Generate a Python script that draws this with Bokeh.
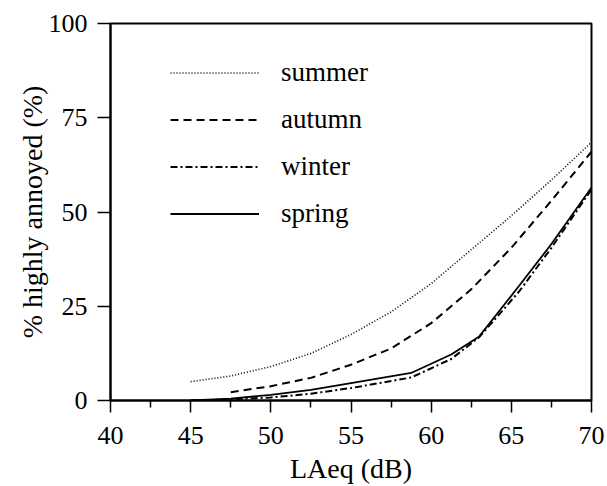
from bokeh.plotting import figure
from bokeh.models import Range1d, FixedTicker, Legend, LegendItem
from bokeh.embed import file_html
from bokeh.resources import INLINE

# ---- data ----
summer_x = [45, 47.5, 50, 52.5, 55, 57.5, 60, 62.5, 65, 67.5, 70]
summer_y = [5, 6.5, 9, 12.5, 17.5, 23.5, 31, 40, 49, 58.5, 68.5]

autumn_x = [47.5, 50, 52.5, 55, 57.5, 60, 62.5, 65, 67.5, 70]
autumn_y = [2.2, 3.8, 6, 9.5, 13.8, 20.5, 29.5, 40.5, 53, 66]

winter_x = [45, 47.5, 50, 52.5, 55, 58.75, 61.25, 63, 65.5, 67.5, 70]
winter_y = [0, 0.3, 0.8, 1.8, 3.3, 6.1, 11, 16.8, 29, 40.5, 56]

spring_x = [45, 47.5, 50, 52.5, 55, 58.75, 61.25, 63, 65.5, 67.5, 70]
spring_y = [0, 0.5, 1.5, 2.8, 4.6, 7.3, 12.2, 17, 30.5, 41.5, 56.5]

x_major = [40, 45, 50, 55, 60, 65, 70]
x_minor = [42.5, 47.5, 52.5, 57.5, 62.5, 67.5]
y_major = [0, 25, 50, 75, 100]

FONT = "Liberation Serif"

p = figure(width=607, height=486, output_backend="svg", toolbar_location=None,
           x_range=Range1d(40, 70), y_range=Range1d(0, 100),
           min_border_left=110, min_border_right=16, min_border_top=23, min_border_bottom=86)

p.background_fill_color = "white"
p.border_fill_color = "white"
p.outline_line_color = "black"
p.outline_line_width = 2
p.xgrid.visible = False
p.ygrid.visible = False

xa = p.xaxis[0]
xa.ticker = FixedTicker(ticks=x_major, minor_ticks=x_minor)
xa.axis_line_width = 2
xa.major_tick_line_width = 1.5
xa.minor_tick_line_width = 1.5
xa.major_tick_in = 0
xa.major_tick_out = 12
xa.minor_tick_in = 0
xa.minor_tick_out = 7
xa.major_label_text_font = FONT
xa.major_label_text_font_size = "26px"
xa.major_label_text_color = "black"
xa.major_label_standoff = 14
xa.axis_label = "LAeq (dB)"
xa.axis_label_text_font = FONT
xa.axis_label_text_font_size = "28px"
xa.axis_label_text_font_style = "normal"
xa.axis_label_text_color = "black"
xa.axis_label_standoff = 6

ya = p.yaxis[0]
ya.ticker = FixedTicker(ticks=y_major, minor_ticks=[])
ya.axis_line_width = 2
ya.major_tick_line_width = 1.5
ya.major_tick_in = 0
ya.major_tick_out = 13
ya.minor_tick_out = 0
ya.minor_tick_in = 0
ya.major_label_text_font = FONT
ya.major_label_text_font_size = "26px"
ya.major_label_text_color = "black"
ya.major_label_standoff = 10
ya.axis_label = "% highly annoyed (%)"
ya.axis_label_text_font = FONT
ya.axis_label_text_font_size = "28px"
ya.axis_label_text_font_style = "normal"
ya.axis_label_text_color = "black"
ya.axis_label_standoff = -2

r_summer = p.line(summer_x, summer_y, line_color="black", line_width=1.6, line_dash="1 2")
r_autumn = p.line(autumn_x, autumn_y, line_color="black", line_width=2, line_dash="8 5")
r_winter = p.line(winter_x, winter_y, line_color="black", line_width=2, line_dash="7 3 2 3")
r_spring = p.line(spring_x, spring_y, line_color="black", line_width=1.8)

legend = Legend(items=[
    LegendItem(label="summer", renderers=[r_summer]),
    LegendItem(label="autumn", renderers=[r_autumn]),
    LegendItem(label="winter", renderers=[r_winter]),
    LegendItem(label="spring", renderers=[r_spring]),
], location=(60, 171), glyph_width=89, glyph_height=27, label_height=27,
   spacing=16, padding=0, margin=0, label_standoff=22,
   border_line_color=None, background_fill_alpha=0,
   label_text_font=FONT, label_text_font_size="27px", label_text_color="black")
p.add_layout(legend)

open("out.html", "w").write(file_html(p, INLINE))
